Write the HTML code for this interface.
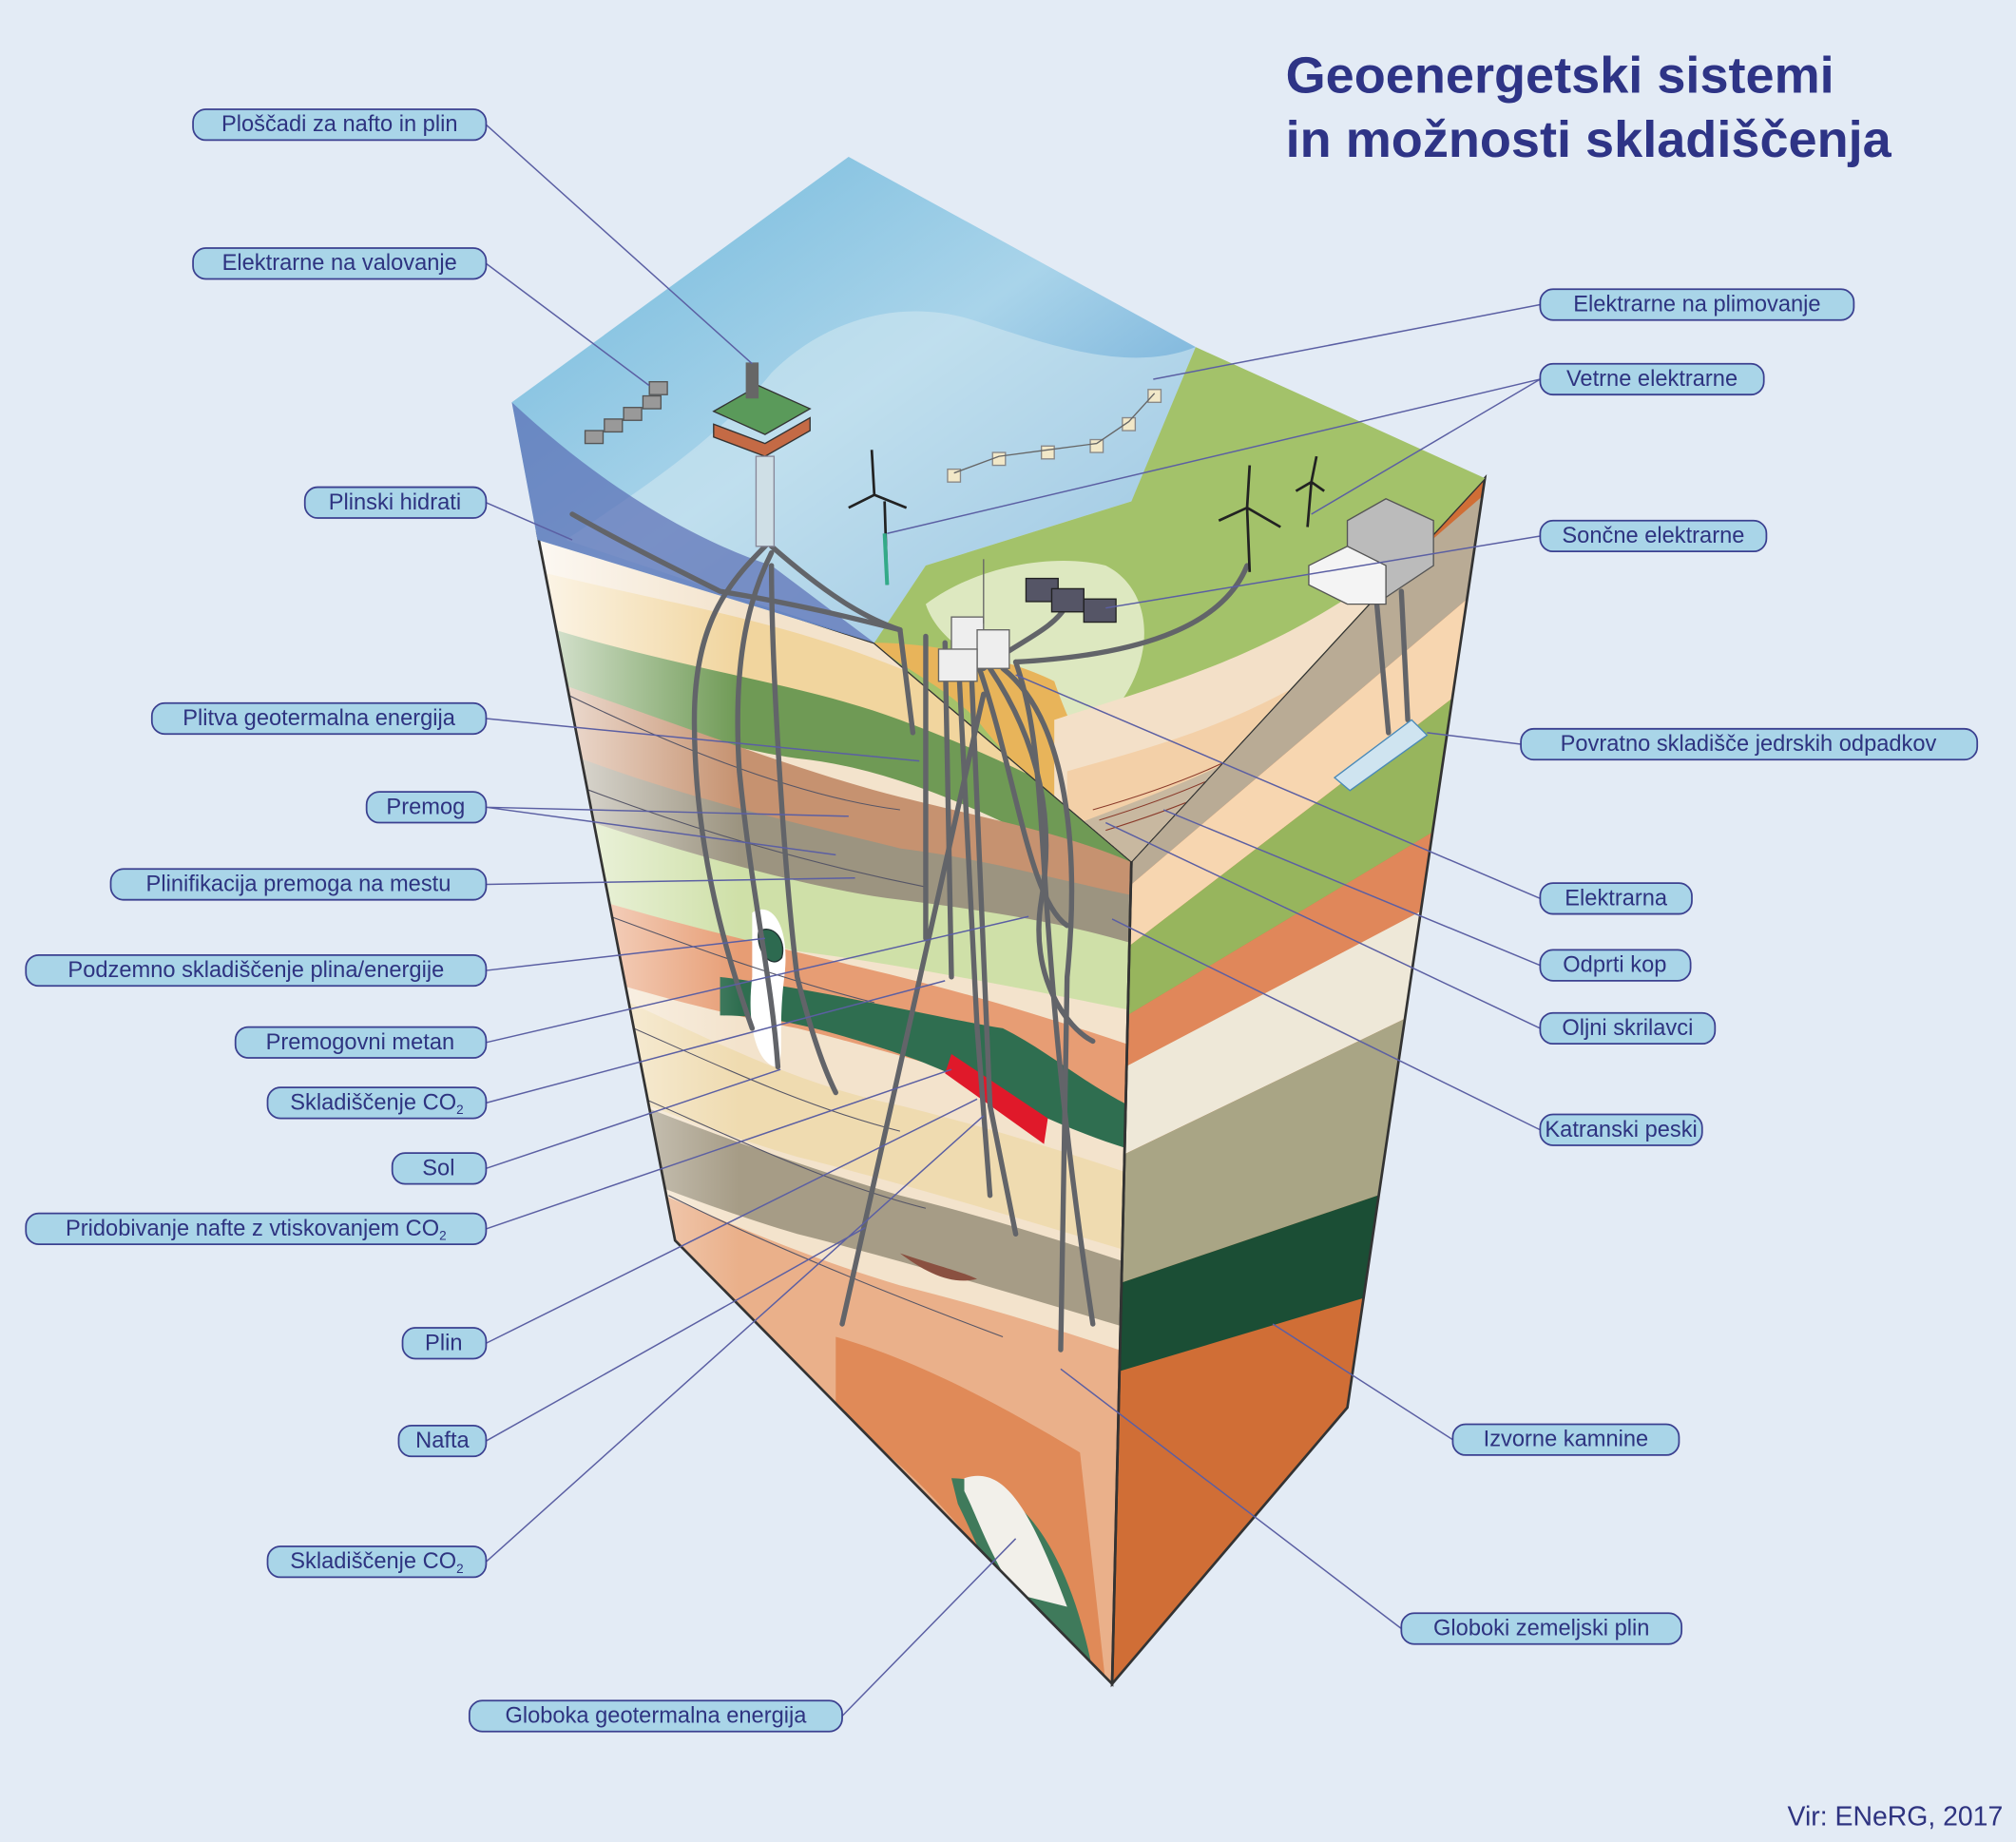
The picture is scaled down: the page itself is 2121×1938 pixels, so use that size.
<!DOCTYPE html>
<html><head><meta charset="utf-8"><style>
html,body{margin:0;padding:0;background:#e3ebf5;}
svg{display:block}
text{font-family:"Liberation Sans",sans-serif;}
</style></head><body>
<svg width="2121" height="1938" viewBox="0 0 1568 1433" xmlns="http://www.w3.org/2000/svg">
<defs>
<linearGradient id="sea" x1="0" y1="0" x2="1" y2="1">
<stop offset="0" stop-color="#6fb7db"/><stop offset="0.5" stop-color="#a9d4ea"/><stop offset="1" stop-color="#4d93cc"/></linearGradient>
<linearGradient id="seaf" x1="0" y1="0" x2="1" y2="0">
<stop offset="0" stop-color="#3c8fcb"/><stop offset="1" stop-color="#5e5ea8"/></linearGradient>
<linearGradient id="lw" x1="0" y1="0" x2="1" y2="0">
<stop offset="0" stop-color="#fff" stop-opacity="0.85"/><stop offset="0.35" stop-color="#fff" stop-opacity="0"/></linearGradient>
<clipPath id="lf"><polygon points="418,415 680,500 880,670 865,1310 525,965"/></clipPath>
<clipPath id="rf"><polygon points="880,670 1155,372 1048,1095 865,1310"/></clipPath>
<clipPath id="land"><polygon points="930,270 1155,372 880,670 680,500 720,440 880,390"/></clipPath>
</defs>
<rect width="1568" height="1433" fill="#e3ebf5"/>

<!-- right face layers -->
<g clip-path="url(#rf)">
<rect x="860" y="360" width="300" height="960" fill="#d06e36"/>
<polygon points="860,360 1160,360 1160,300 860,300" fill="#f3e7d0"/>
<polygon points="860,640 1160,380 1160,450 860,705" fill="#b9ab95"/>
<polygon points="860,705 1160,450 1160,520 860,750" fill="#f7d6b0"/>
<polygon points="860,750 1160,520 1160,620 860,800" fill="#97b55d"/>
<polygon points="860,800 1160,620 1160,680 860,838" fill="#e0875a"/>
<polygon points="860,838 1160,680 1160,760 860,905" fill="#eee8d8"/>
<polygon points="860,905 1160,760 1160,900 860,1002" fill="#a9a585"/>
<polygon points="860,1002 1160,900 1160,980 860,1070" fill="#1b4e35"/>
</g>
<!-- left face layers -->
<g clip-path="url(#lf)">
<rect x="400" y="400" width="500" height="920" fill="#f3e3cc"/>
<path d="M400,440 C520,470 600,480 700,520 L900,600 L900,660 C800,620 700,560 600,540 C520,525 460,500 400,480Z" fill="#f1d59e"/>
<path d="M400,480 C520,520 620,530 700,560 C780,590 840,620 900,660 L900,700 C820,660 720,600 620,590 C520,575 460,540 400,520Z" fill="#6f9a55"/>
<path d="M400,520 C520,560 620,600 700,620 C780,640 840,650 900,680 L900,720 C800,690 700,670 620,650 C520,620 460,600 400,570Z" fill="#c69270"/>
<path d="M400,570 C520,620 620,640 700,660 C780,670 840,690 900,700 L900,740 C800,720 700,700 620,690 C520,670 460,640 400,620Z" fill="#9c9480"/>
<path d="M400,620 C520,660 620,690 700,700 C780,710 840,720 900,740 L900,790 C800,770 700,750 620,740 C520,720 460,700 400,680Z" fill="#cfe0a8"/>
<path d="M400,680 C520,720 620,740 700,760 C780,780 840,800 900,820 L900,880 C800,850 700,820 620,800 C520,780 460,760 400,740Z" fill="#e79d74"/>
<path d="M560,760 C640,770 720,790 780,800 C820,820 850,850 900,870 L900,900 C820,880 760,840 700,820 C640,800 600,790 560,790Z" fill="#2f6e50"/>
<path d="M400,740 C520,790 600,840 700,860 C780,880 840,900 900,920 L900,980 C800,950 700,920 620,900 C520,870 460,840 400,820Z" fill="#efdbb0"/>
<path d="M400,820 C520,870 600,900 700,930 C780,950 840,970 900,990 L900,1040 C800,1010 700,980 620,960 C520,930 460,900 400,880Z" fill="#a69c86"/>
<path d="M400,880 C520,930 600,970 700,1000 C780,1020 840,1040 900,1060 L900,1320 L400,1320Z" fill="#eab08a"/>
<path d="M650,1040 C720,1060 790,1100 840,1130 L860,1310 L800,1260 C760,1200 720,1150 650,1100Z" fill="#e08a58"/>
<path d="M740,1150 C790,1150 830,1200 850,1300 L800,1280 C770,1230 760,1200 745,1170Z" fill="#3f7a5b"/>
<path d="M750,1150 C780,1140 800,1170 830,1250 L790,1240 C770,1210 760,1180 750,1160Z" fill="#f2f0ea"/>
<path d="M700,975 C730,985 750,990 760,995 C740,1000 720,990 700,975Z" fill="#8a5040"/>
<path d="M585,710 C600,700 615,720 610,760 C605,800 610,820 605,830 C590,830 580,800 585,760Z" fill="#fff"/>
<path d="M590,725 C600,718 612,730 608,745 C600,755 588,740 590,725Z" fill="#2d6a50" stroke="#233" stroke-width="1"/>
<path d="M740,820 L815,870 L812,890 L735,835Z" fill="#e0192a"/>
<rect x="400" y="400" width="500" height="920" fill="url(#lw)"/>
<g stroke="#556" stroke-width="0.8" fill="none">
<path d="M420,530 C520,580 620,620 700,630"/>
<path d="M420,600 C520,640 620,670 720,690"/>
<path d="M440,700 C520,730 600,760 680,780"/>
<path d="M470,790 C540,820 620,860 700,880"/>
<path d="M490,850 C560,880 640,920 720,940"/>
<path d="M520,930 C600,970 700,1010 780,1040"/>
</g>
</g>
<polygon points="418,415 680,500 880,670 865,1310 525,965" fill="none" stroke="#333" stroke-width="2"/>
<polygon points="880,670 1155,372 1048,1095 865,1310" fill="none" stroke="#333" stroke-width="2"/>
<line x1="880" y1="670" x2="865" y2="1310" stroke="#333" stroke-width="1.5"/>

<!-- top: sea -->
<polygon points="398,313 660,122 930,270 880,390 720,440 680,500 418,420" fill="url(#sea)"/>
<path d="M440,420 C500,380 560,340 600,290 C640,250 700,230 760,250 C820,270 880,290 930,270 L880,390 C820,420 760,430 720,440 L680,500 Z" fill="#cfe6f0" opacity="0.6"/>
<path d="M398,313 L418,420 L680,500 L600,440 C540,420 470,380 398,313Z" fill="#5a6db5" opacity="0.7"/>
<!-- top: land -->
<g clip-path="url(#land)">
<rect x="660" y="260" width="520" height="420" fill="#a3c26a"/>
<path d="M720,470 C760,440 820,430 860,440 C900,460 900,520 860,560 C830,590 800,560 780,530 C760,510 730,500 720,470Z" fill="#dde8c0"/>
<path d="M680,500 C700,520 730,530 760,560 C790,600 820,620 860,650 L880,670 L870,640 C850,600 830,560 820,530 C780,510 720,500 680,500Z" fill="#e8b45a"/>
<path d="M820,560 C880,540 960,520 1040,470 C1090,440 1130,410 1160,370 L1160,700 L820,700Z" fill="#f3e0c8"/>
<path d="M830,600 C900,580 980,560 1060,500 C1100,470 1130,430 1160,380 L1160,700 L830,700Z" fill="#f3d0a8"/>
<path d="M840,640 C920,610 1000,580 1070,520 C1110,485 1140,440 1160,400 L1160,700 L840,700Z" fill="#c8b8a0"/>
<g stroke="#8a3a2a" stroke-width="0.8" fill="none">
<path d="M850,630 C920,610 1000,580 1060,520 C1100,480 1130,440 1150,390"/>
<path d="M855,638 C920,618 1000,588 1062,528 C1102,488 1132,448 1150,398"/>
<path d="M860,646 C925,626 1005,596 1065,536 C1105,496 1135,456 1150,406"/>
</g>
</g>

<!-- wells -->
<g stroke="#626469" stroke-width="4" fill="none" stroke-linecap="round">
<path d="M445,400 C480,420 520,440 560,460 C620,470 660,480 700,490"/>
<path d="M600,420 C570,450 540,480 540,560 C540,650 560,730 585,800"/>
<path d="M600,430 C580,470 570,520 575,600 C585,700 600,760 605,830"/>
<path d="M600,440 C600,520 610,680 620,760 C630,800 640,830 650,850"/>
<path d="M700,490 L710,570"/><path d="M720,495 L720,730"/>
<path d="M735,500 L740,760"/><path d="M745,505 L760,800 L770,930"/>
<path d="M755,510 L770,860 L790,960"/>
<path d="M760,515 C790,600 800,700 830,720"/>
<path d="M770,520 C810,580 820,640 810,700 C800,760 830,800 850,810"/>
<path d="M780,520 C830,560 840,660 830,760 L825,1050"/>
<path d="M790,515 C820,600 800,700 850,1030"/>
<path d="M765,540 L655,1030"/>
<path d="M765,520 C790,500 820,490 830,470"/>
<path d="M790,515 C880,510 950,490 970,440"/>
<path d="M600,425 C640,460 670,480 700,490"/>
<path d="M1070,460 L1080,570"/><path d="M1090,460 L1095,560"/>
</g>
<!-- power plant -->
<g stroke="#666" stroke-width="1" fill="#eee">
<rect x="740" y="480" width="25" height="30"/><rect x="760" y="490" width="25" height="30"/><rect x="730" y="505" width="30" height="25"/>
<line x1="765" y1="435" x2="765" y2="485"/>
</g>
<!-- nuclear building -->
<polygon points="1048,405 1078,388 1115,405 1115,440 1070,470 1048,455" fill="#bbb" stroke="#555"/>
<polygon points="1018,440 1048,425 1078,440 1078,470 1048,470 1018,455" fill="#f4f4f4" stroke="#555"/>
<!-- nuclear waste grid -->
<polygon points="1038,605 1098,560 1110,572 1050,615" fill="#cfe4f0" stroke="#4a8ab8"/>
<!-- solar -->
<g fill="#556" stroke="#222"><rect x="798" y="450" width="25" height="18"/><rect x="818" y="458" width="25" height="18"/><rect x="843" y="466" width="25" height="18"/></g>
<!-- wind turbines -->
<g stroke="#222" stroke-width="2" fill="none">
<path d="M688,390 L690,455 M680,385 L660,395 M680,385 L678,350 M680,385 L705,395"/>
<path d="M970,395 L972,445 M970,395 L948,405 M970,395 L972,362 M970,395 L996,410"/>
<path d="M1020,375 L1017,410 M1020,375 L1008,382 M1020,375 L1024,355 M1020,375 L1030,382"/>
</g>
<line x1="688" y1="415" x2="690" y2="455" stroke="#3a8" stroke-width="3"/>
<!-- tidal buoys -->
<g fill="#f2e8c8" stroke="#888">
<rect x="737" y="365" width="10" height="10"/><rect x="772" y="352" width="10" height="10"/><rect x="810" y="347" width="10" height="10"/><rect x="848" y="342" width="10" height="10"/><rect x="873" y="325" width="10" height="10"/><rect x="893" y="303" width="10" height="10"/>
</g>
<path d="M742,368 L777,355 L815,350 L853,345 L878,328 L898,306" stroke="#666" fill="none"/>
<!-- platform -->
<g>
<polygon points="555,320 590,300 630,318 595,338" fill="#5a9a5a" stroke="#333"/>
<rect x="580" y="282" width="10" height="28" fill="#666"/>
<polygon points="555,330 595,345 630,325 630,335 595,355 555,340" fill="#c46a45" stroke="#333"/>
<rect x="588" y="355" width="14" height="70" fill="#cfdfe6" stroke="#889"/>
</g>
<!-- wave devices -->
<g fill="#999" stroke="#555"><rect x="455" y="335" width="14" height="10"/><rect x="470" y="326" width="14" height="10"/><rect x="485" y="317" width="14" height="10"/><rect x="500" y="308" width="14" height="10"/><rect x="505" y="297" width="14" height="10"/></g>

<!-- leader lines -->
<g stroke="#5b5fa3" stroke-width="1.1" fill="none">
<path d="M378,97 L585,283"/><path d="M378,205 L505,300"/><path d="M378,391 L445,420"/>
<path d="M378,559 L715,592"/><path d="M378,628 L660,635 M378,628 L650,665"/><path d="M378,688 L665,683"/>
<path d="M378,755 L595,730"/><path d="M378,811 L800,713"/><path d="M378,858 L735,763"/>
<path d="M378,909 L607,832"/><path d="M378,956 L740,832"/><path d="M378,1045 L760,855"/>
<path d="M378,1121 L673,955"/><path d="M378,1215 L765,868"/><path d="M655,1335 L790,1197"/>
<path d="M1198,237 L897,295"/><path d="M1198,295 L690,415 M1198,295 L1020,400"/><path d="M1198,417 L860,473"/>
<path d="M1183,579 L1110,570"/><path d="M1198,699 L790,525"/><path d="M1198,751 L905,630"/>
<path d="M1198,800 L860,640"/><path d="M1198,879 L865,715"/><path d="M1130,1120 L990,1030"/><path d="M1090,1267 L825,1065"/>
</g>

<!-- labels -->
<g fill="#a9d5e8" stroke="#3b4090" stroke-width="1.3">
<rect x="150" y="85" width="228" height="24" rx="10"/>
<rect x="150" y="193" width="228" height="24" rx="10"/>
<rect x="237" y="379" width="141" height="24" rx="10"/>
<rect x="118" y="547" width="260" height="24" rx="10"/>
<rect x="285" y="616" width="93" height="24" rx="10"/>
<rect x="86" y="676" width="292" height="24" rx="10"/>
<rect x="20" y="743" width="358" height="24" rx="10"/>
<rect x="183" y="799" width="195" height="24" rx="10"/>
<rect x="208" y="846" width="170" height="24" rx="10"/>
<rect x="305" y="897" width="73" height="24" rx="10"/>
<rect x="20" y="944" width="358" height="24" rx="10"/>
<rect x="313" y="1033" width="65" height="24" rx="10"/>
<rect x="310" y="1109" width="68" height="24" rx="10"/>
<rect x="208" y="1203" width="170" height="24" rx="10"/>
<rect x="365" y="1323" width="290" height="24" rx="10"/>
<rect x="1198" y="225" width="244" height="24" rx="10"/>
<rect x="1198" y="283" width="174" height="24" rx="10"/>
<rect x="1198" y="405" width="176" height="24" rx="10"/>
<rect x="1183" y="567" width="355" height="24" rx="10"/>
<rect x="1198" y="687" width="118" height="24" rx="10"/>
<rect x="1198" y="739" width="117" height="24" rx="10"/>
<rect x="1198" y="788" width="136" height="24" rx="10"/>
<rect x="1198" y="867" width="126" height="24" rx="10"/>
<rect x="1130" y="1108" width="176" height="24" rx="10"/>
<rect x="1090" y="1255" width="218" height="24" rx="10"/>
</g>
<g fill="#2e3380" font-size="17.5" text-anchor="middle" dominant-baseline="central">
<text x="264" y="97">Ploščadi za nafto in plin</text>
<text x="264" y="205">Elektrarne na valovanje</text>
<text x="307" y="391">Plinski hidrati</text>
<text x="248" y="559">Plitva geotermalna energija</text>
<text x="331" y="628">Premog</text>
<text x="232" y="688">Plinifikacija premoga na mestu</text>
<text x="199" y="755">Podzemno skladiščenje plina/energije</text>
<text x="280" y="811">Premogovni metan</text>
<text x="293" y="858">Skladiščenje CO<tspan font-size="10" dy="5">2</tspan></text>
<text x="341" y="909">Sol</text>
<text x="199" y="956">Pridobivanje nafte z vtiskovanjem CO<tspan font-size="10" dy="5">2</tspan></text>
<text x="345" y="1045">Plin</text>
<text x="344" y="1121">Nafta</text>
<text x="293" y="1215">Skladiščenje CO<tspan font-size="10" dy="5">2</tspan></text>
<text x="510" y="1335">Globoka geotermalna energija</text>
<text x="1320" y="237">Elektrarne na plimovanje</text>
<text x="1285" y="295">Vetrne elektrarne</text>
<text x="1286" y="417">Sončne elektrarne</text>
<text x="1360" y="579">Povratno skladišče jedrskih odpadkov</text>
<text x="1257" y="699">Elektrarna</text>
<text x="1256" y="751">Odprti kop</text>
<text x="1266" y="800">Oljni skrilavci</text>
<text x="1261" y="879">Katranski peski</text>
<text x="1218" y="1120">Izvorne kamnine</text>
<text x="1199" y="1267">Globoki zemeljski plin</text>
</g>
<g fill="#2e3486" font-weight="bold" font-size="40">
<text x="1000" y="72">Geoenergetski sistemi</text>
<text x="1000" y="122">in možnosti skladiščenja</text>
</g>
<text x="1558" y="1420" text-anchor="end" fill="#2e3380" font-size="21">Vir: ENeRG, 2017</text>
</svg>
</body></html>
